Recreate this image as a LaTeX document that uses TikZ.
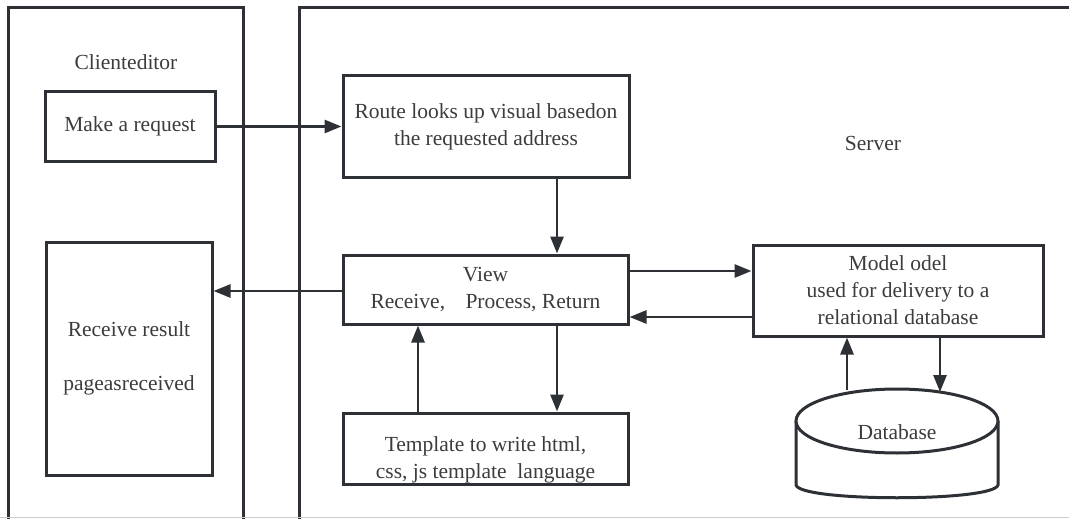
\documentclass[tikz,border=0pt]{standalone}
\usepackage{fontspec}
\setmainfont{Liberation Serif}
\usetikzlibrary{arrows.meta}
\definecolor{ln}{HTML}{2D3136}
\definecolor{tx}{HTML}{3C3C3C}
\tikzset{
  box/.style={draw=ln, line width=3pt, text=tx, align=center, inner sep=0pt,
    font=\fontsize{21.5}{27}\selectfont},
  lbl/.style={text=tx, font=\fontsize{21.5}{27}\selectfont},
  panel/.style={draw=ln, line width=3pt},
  arr/.style={draw=ln, line width=2.8pt, -{Triangle[length=17pt,width=13pt]}}
}
\begin{document}
\begin{tikzpicture}[x=1pt,y=-1pt]
\useasboundingbox (0,0) rectangle (1069,519);
\begin{scope}
\clip (0,0) rectangle (1069,519);
\draw[panel] (8,530) -- (8,8) -- (243,8) -- (243,530);
\draw[panel] (299,530) -- (299,8) -- (1080,8);
\end{scope}
\draw[gray!40, line width=1pt] (0,517.5) -- (1069,517.5);

\node[lbl] (client) at (126,62) {Clienteditor};
\node[lbl] (server) at (873,143) {Server};

\node[box, minimum width=170pt, minimum height=69pt] (mk) at (130,126.5) {Make a request};
\node[box, minimum width=286pt, minimum height=101pt] (route) at (486,126.5) {Route looks up visual basedon\\the requested address};
\node[box, minimum width=285pt, minimum height=69pt] (view) at (485.5,289.5) {View\\Receive,\hspace{0.7em} Process, Return};
\node[box, minimum width=166pt, minimum height=233pt] (recv) at (129,358.5) {Receive result\\[27pt]pageasreceived};
\node[box, minimum width=290pt, minimum height=91pt] (model) at (898,290.5) {Model odel\\used for delivery to a\\relational database};
\node[box, minimum width=285pt, minimum height=71pt, text depth=0pt] (tmpl) at (485.5,448.5) {\raisebox{-5pt}{\parbox{285pt}{\centering Template to write html,\\css, js template\ \ language}}};

% database cylinder
\coordinate (dbtop) at (897,421);
\draw[ln, line width=3pt, fill=white] (796,421) -- (796,485)
  .. controls (800,502) and (994,502) .. (998,485) -- (998,421);
\draw[ln, line width=3pt, fill=white] (dbtop) ellipse [x radius=101pt, y radius=32pt];
\node[lbl] (db) at (897,432) {Database};

% connectors
\draw[arr] (mk.east) -- (route.west |- mk.east);
\draw[arr] (route.south -| 557,0) -- (view.north -| 557,0);
\draw[arr] (view.west |- 0,291) -- (recv.east |- 0,291);
\draw[arr] (view.east |- 0,271) -- (model.west |- 0,271);
\draw[arr] (model.west |- 0,317) -- (view.east |- 0,317);
\draw[arr] (tmpl.north -| 418,0) -- (view.south -| 418,0);
\draw[arr] (view.south -| 557,0) -- (tmpl.north -| 557,0);
\draw[arr] (847,390) -- (model.south -| 847,0);
\draw[arr] (model.south -| 940,0) -- (940,392);
\end{tikzpicture}
\end{document}
